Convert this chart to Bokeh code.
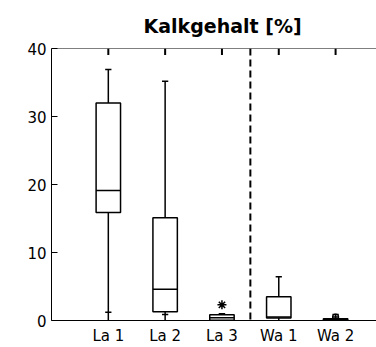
from bokeh.plotting import figure
from bokeh.models import LinearAxis, FixedTicker, Span, Title, ColumnDataSource
from bokeh.embed import file_html
from bokeh.resources import INLINE

# Lime content per site
categories = ["La 1", "La 2", "La 3", "Wa 1", "Wa 2"]
q1 = [15.9, 1.3, 0.05, 0.35, 0.0]
median = [19.1, 4.6, 0.4, 0.5, 0.1]
q3 = [32.0, 15.1, 0.83, 3.5, 0.25]
whisker_high = [36.9, 35.2, 1.0, 6.45, 0.9]
whisker_low = [0.0, 0.0, 0.0, 0.0, 0.0]
low_mark = [1.2, 0.9, 1.0, 1.1, 0.5]
extreme_x = ["La 3"]
extreme_y = [2.3]
outlier_x = ["Wa 2"]
outlier_y = [0.5]
y_ticks = [0, 10, 20, 30, 40]
y_max = 40
title = "Kalkgehalt [%]"

pos = {c: i + 1 for i, c in enumerate(categories)}
xs = [pos[c] for c in categories]

FONT = "DejaVu Sans"

p = figure(width=376, height=347, x_range=(0, 5.72), y_range=(0, y_max),
           output_backend="svg", toolbar_location=None,
           min_border_left=51, min_border_right=0, min_border_top=48,
           min_border_bottom=26, x_axis_type=None, y_axis_type=None)
p.outline_line_color = None
p.xgrid.visible = False
p.ygrid.visible = False
p.background_fill_color = "white"
p.border_fill_color = "white"

# left axis
ya = LinearAxis(ticker=FixedTicker(ticks=y_ticks))
ya.major_tick_in = 6
ya.major_tick_out = 0
ya.minor_tick_line_color = None
ya.axis_line_color = "black"
ya.major_tick_line_color = "black"
ya.major_label_text_font = FONT
ya.major_label_text_font_size = "15px"
ya.major_label_text_color = "black"
ya.major_label_standoff = 5
p.add_layout(ya, "left")

# bottom axis with site names
xa = LinearAxis(ticker=FixedTicker(ticks=xs),
                major_label_overrides={pos[c]: c for c in categories})
xa.major_tick_in = 0
xa.major_tick_out = 0
xa.minor_tick_line_color = None
xa.axis_line_color = "black"
xa.major_label_text_font = FONT
xa.major_label_text_font_size = "15px"
xa.major_label_text_color = "black"
xa.major_label_standoff = 6
p.add_layout(xa, "below")

# top frame line with short inward ticks at each site
tick_len = 0.95
p.add_layout(Span(location=y_max, dimension="width", line_color="black",
                  line_width=1.2))
p.segment(xs, [y_max] * len(xs), xs, [y_max - tick_len] * len(xs),
          line_color="black", line_width=2)

p.add_layout(Title(text=title, align="left", offset=92,
                   text_font=FONT, text_font_size="19px",
                   text_font_style="bold", text_color="black",
                   standoff=24), "above")

src = ColumnDataSource(dict(x=xs, q1=q1, med=median, q3=q3,
                            hi=whisker_high, lo=whisker_low, lm=low_mark))

bw = 0.43
cap = 0.11
lw = 1.5
left = [x - bw / 2 for x in xs]
right = [x + bw / 2 for x in xs]
cl = [x - cap / 2 for x in xs]
cr = [x + cap / 2 for x in xs]

# whiskers and their end marks
p.segment("x", "q3", "x", "hi", source=src, line_color="black", line_width=lw)
p.segment("x", "q1", "x", "lo", source=src, line_color="black", line_width=lw)
p.segment(cl, whisker_high, cr, whisker_high, line_color="black", line_width=lw)
p.segment(cl, low_mark, cr, low_mark, line_color="black", line_width=lw)

# boxes and medians
p.quad(left=left, right=right, bottom=q1, top=q3,
       fill_color="white", line_color="black", line_width=lw)
p.segment(left, median, right, median, line_color="black", line_width=lw)

# outliers
p.scatter([pos[c] for c in extreme_x], extreme_y, marker="asterisk", size=9,
          line_color="black", line_width=1.5)
p.scatter([pos[c] for c in outlier_x], outlier_y, marker="circle", size=6,
          fill_color=None, line_color="black", line_width=1.3)

# separator between La and Wa sites
p.add_layout(Span(location=3.5, dimension="height", line_color="black",
                  line_width=2, line_dash="7 4"))

open("out.html", "w").write(file_html(p, INLINE))
